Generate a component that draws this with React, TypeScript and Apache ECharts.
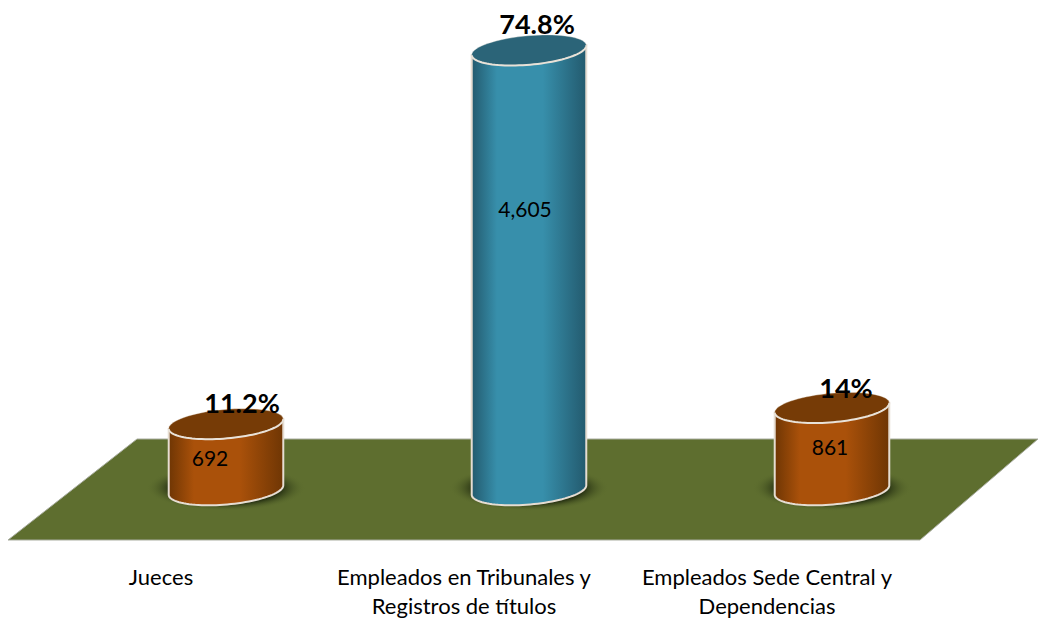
import React, { useEffect, useRef } from "react";
import * as echarts from "echarts";

const categories = ["Jueces", "Empleados en Tribunales y\nRegistros de títulos", "Empleados Sede Central y\nDependencias"];
const counts = [692, 4605, 861];
const countLabels = ["692", "4,605", "861"];
const percentLabels = ["11.2%", "74.8%", "14%"];
const palette = [
  { edge: "#6f3604", mid: "#aa510a", top: "#763b06" },
  { edge: "#235a6e", mid: "#378fab", top: "#2b6478" },
  { edge: "#6f3604", mid: "#aa510a", top: "#763b06" },
];
// Label offsets from the column's top-centre point
const countNudge = [[-16, 34], [-4, 158], [-2, 39]];
const percentNudge = [[16, -21], [8, -27], [14, -20]];

const RX = 57.5;
const RY = 14.5;
const TILT = (5 * Math.PI) / 180; // right end raised

// Point on the tilted ellipse; a=0 right end, a=PI/2 lowest side, a=PI left end
function rimPoint(cx: number, cy: number, a: number) {
  const ex = RX * Math.cos(a);
  const ey = RY * Math.sin(a);
  return [cx + ex * Math.cos(TILT) + ey * Math.sin(TILT), cy - ex * Math.sin(TILT) + ey * Math.cos(TILT)];
}
function arcPoints(cx: number, cy: number, from: number, to: number, steps = 48) {
  const out: number[][] = [];
  for (let k = 0; k <= steps; k++) out.push(rimPoint(cx, cy, from + ((to - from) * k) / steps));
  return out;
}

function renderItem(params: any, api: any) {
  const i = api.value(0);
  const [cx, topY] = api.coord([i, api.value(1)]);
  const [, baseY] = api.coord([i, 0]);
  const c = palette[i];
  const body = [rimPoint(cx, topY, Math.PI), rimPoint(cx, topY, 0), ...arcPoints(cx, baseY, 0, Math.PI)];
  return {
    type: "group",
    children: [
      {
        type: "ellipse",
        shape: { cx, cy: baseY - 2, rx: 80, ry: 23 },
        style: {
          fill: new echarts.graphic.RadialGradient(0.5, 0.5, 0.5, [
            { offset: 0, color: "rgba(30,40,14,0.95)" },
            { offset: 0.7, color: "rgba(34,44,16,0.85)" },
            { offset: 1, color: "rgba(95,112,47,0)" },
          ]),
        },
      },
      {
        type: "polygon",
        shape: { points: body },
        style: {
          fill: new echarts.graphic.LinearGradient(0, 0, 1, 0, [
            { offset: 0, color: c.edge },
            { offset: 0.22, color: c.mid },
            { offset: 0.62, color: c.mid },
            { offset: 1, color: c.edge },
          ]),
          stroke: "#e6ddd2",
          lineWidth: 2,
        },
      },
      {
        type: "polygon",
        shape: { points: arcPoints(cx, topY, 0, Math.PI * 2, 72) },
        style: { fill: c.top, stroke: "rgba(240,235,225,0.35)", lineWidth: 1 },
      },
      {
        type: "polyline",
        shape: { points: arcPoints(cx, topY, 0, Math.PI) },
        style: { fill: "none", stroke: "#e9e2d8", lineWidth: 2 },
      },
      {
        type: "text",
        x: cx + countNudge[i][0],
        y: topY + countNudge[i][1],
        style: {
          text: countLabels[i],
          font: "21px Lato",
          fill: "#000",
          align: "center",
          verticalAlign: "middle",
        },
      },
      {
        type: "text",
        x: cx + percentNudge[i][0],
        y: topY + percentNudge[i][1],
        style: {
          text: percentLabels[i],
          font: "bold 27px Lato",
          fill: "#000",
          align: "center",
          verticalAlign: "middle",
        },
      },
    ],
  };
}

export default function App() {
  const ref = useRef<HTMLDivElement>(null);
  useEffect(() => {
    const chart = echarts.init(ref.current!, null, { renderer: "svg" });
    chart.setOption({
      animation: false,
      backgroundColor: "#ffffff",
      grid: { left: 74.5, width: 909, top: 12.5, height: 477.5 },
      graphic: [
        {
          type: "polygon",
          z: -1,
          shape: { points: [[137, 439], [1038, 439], [920, 540], [8, 540]] },
          style: { fill: "#5e6e2f", stroke: "#a9ada0", lineWidth: 1 },
        },
      ],
      xAxis: {
        type: "category",
        data: categories,
        axisLine: { show: false },
        axisTick: { show: false },
        axisLabel: {
          interval: 0,
          margin: 72,
          padding: [0, 130, 0, 0],
          color: "#000",
          fontFamily: "Lato",
          fontSize: 22,
          lineHeight: 29,
        },
      },
      yAxis: { type: "value", min: 0, max: 5000, show: false },
      series: [
        {
          type: "custom",
          z: 5,
          clip: false,
          renderItem,
          encode: { x: 0, y: 1 },
          data: counts.map((v, i) => [i, v]),
        },
      ],
    });
    return () => chart.dispose();
  }, []);
  return <div ref={ref} style={{ position: "absolute", left: 0, top: 0, width: 1038, height: 623 }} />;
}
